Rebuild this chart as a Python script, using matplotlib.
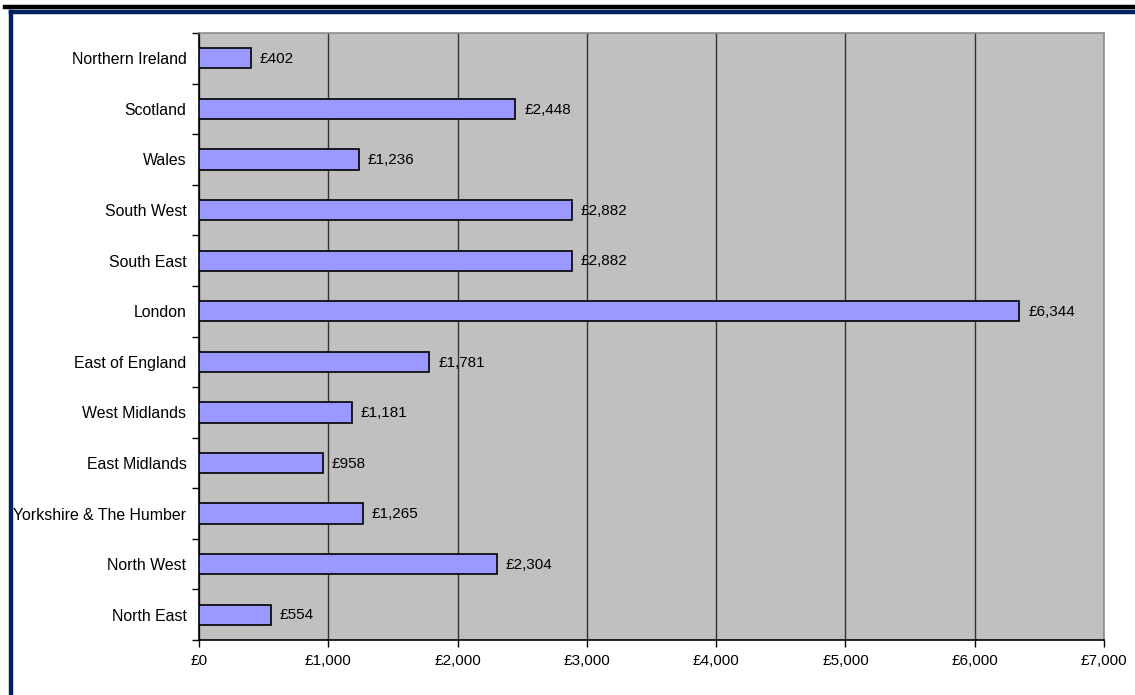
import matplotlib.pyplot as plt
from matplotlib.lines import Line2D
from matplotlib.ticker import FixedLocator, FuncFormatter

plt.rcParams['font.family'] = ['Liberation Sans', 'DejaVu Sans']

# regions listed bottom to top, as they stack on the chart
regions = ['North East', 'North West', 'Yorkshire & The Humber', 'East Midlands',
           'West Midlands', 'East of England', 'London', 'South East',
           'South West', 'Wales', 'Scotland', 'Northern Ireland']
values = [554, 2304, 1265, 958, 1181, 1781, 6344, 2882, 2882, 1236, 2448, 402]
x_ticks = [0, 1000, 2000, 3000, 4000, 5000, 6000, 7000]

fig = plt.figure(figsize=(11.35, 6.95), dpi=100)
ax = fig.add_axes([0.1753, 0.0791, 0.7974, 0.8734])
ax.set_facecolor('#C0C0C0')

pos = list(range(len(regions)))
ax.barh(pos, values, height=0.4, color='#9999FF', edgecolor='black',
        linewidth=1.2, zorder=3)

for y, v in zip(pos, values):
    ax.annotate(f'£{v:,}', (v, y), xytext=(6.5, -0.5), textcoords='offset points',
                va='center', ha='left', fontsize=11, zorder=4)

ax.set_xlim(0, 7000)
ax.set_ylim(-0.5, len(regions) - 0.5)
ax.set_xticks(x_ticks)
ax.xaxis.set_major_formatter(FuncFormatter(lambda v, p: f'£{int(v):,}'))
ax.set_yticks(pos)
ax.set_yticklabels(regions)
ax.yaxis.set_minor_locator(FixedLocator([p - 0.5 for p in pos] + [len(pos) - 0.5]))
ax.tick_params(axis='y', which='major', length=0, pad=9, labelsize=11.4)
ax.tick_params(axis='y', which='minor', length=5, width=1, direction='out')
ax.tick_params(axis='x', length=5, width=1, pad=5, labelsize=11)

ax.grid(axis='x', color='#333333', linewidth=1, zorder=1)
ax.set_axisbelow(True)

for side in ('left', 'bottom'):
    ax.spines[side].set_color('black')
    ax.spines[side].set_linewidth(1.2)
for side in ('top', 'right'):
    ax.spines[side].set_color('#8C8C8C')
    ax.spines[side].set_linewidth(1.2)

# frame lines along the top and left edge of the figure
W, H = 1135, 695
fig.add_artist(Line2D([5 / W, 1], [1 - 7 / H, 1 - 7 / H], color='black', linewidth=3.2))
fig.add_artist(Line2D([11 / W, 1], [1 - 12 / H, 1 - 12 / H], color='#002060', linewidth=3.2))
fig.add_artist(Line2D([11 / W, 11 / W], [0, 1 - 12 / H], color='#002060', linewidth=3.2))

fig.savefig('out.png', dpi=100)
